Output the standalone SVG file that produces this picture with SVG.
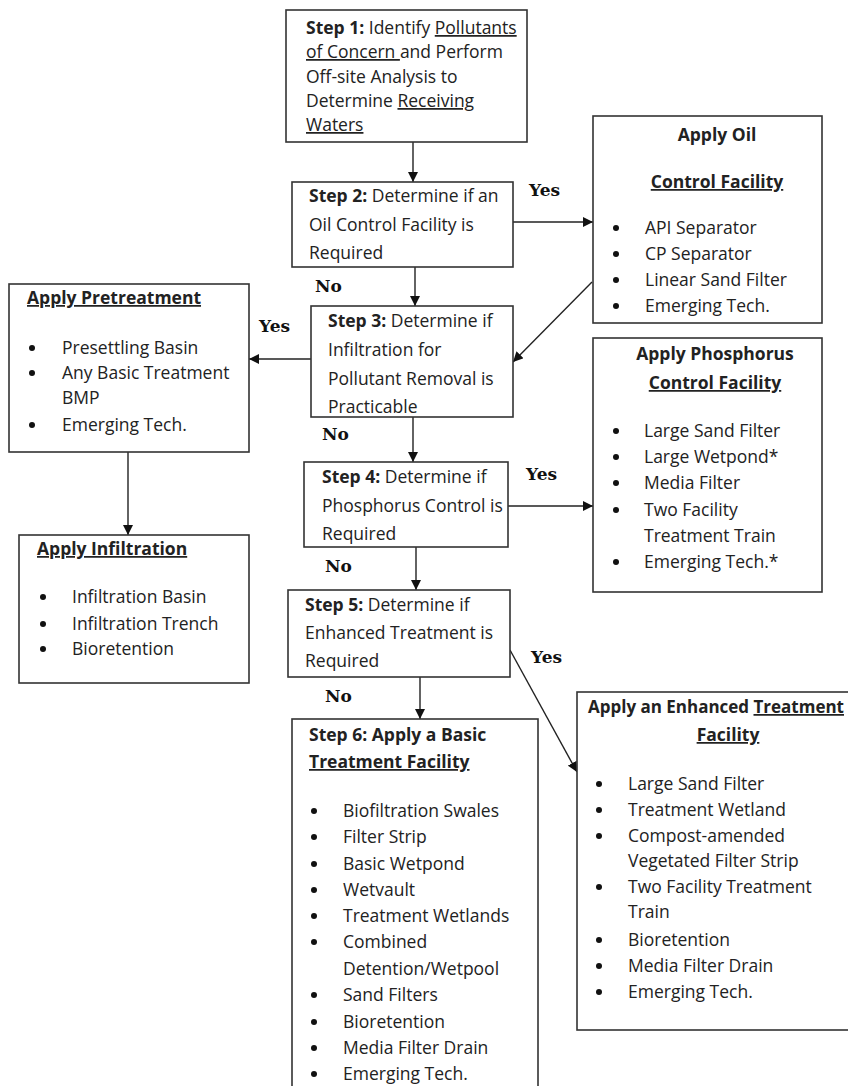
<svg xmlns="http://www.w3.org/2000/svg" width="848" height="1086" viewBox="0 0 848 1086">
<defs>
<marker id="ah" viewBox="0 0 10 10" refX="10" refY="5" markerWidth="10" markerHeight="10" markerUnits="userSpaceOnUse" orient="auto">
<path d="M0,0 L10,5 L0,10 z" fill="#111"/>
</marker>
<style>
.box{fill:#fff;stroke:#333;stroke-width:1.6}
.t{font-family:"Open Sans","Liberation Sans",sans-serif;font-size:17.5px;fill:#222}
.b{font-weight:bold}
.u{text-decoration:underline}
.lbl{font-family:"DejaVu Serif","Liberation Serif",serif;font-weight:bold;font-size:17px;fill:#111}
.ln{stroke:#222;stroke-width:1.4;fill:none}
.bul{fill:#111}
</style>
</defs>
<rect width="848" height="1086" fill="#fff"/>

<g id="connectors">
<line class="ln" x1="413" y1="142" x2="413" y2="182" marker-end="url(#ah)"/>
<line class="ln" x1="513" y1="222" x2="593" y2="222" marker-end="url(#ah)"/>
<line class="ln" x1="415" y1="267" x2="415" y2="306" marker-end="url(#ah)"/>
<line class="ln" x1="592" y1="282" x2="513" y2="362" marker-end="url(#ah)"/>
<line class="ln" x1="311" y1="359" x2="249" y2="359" marker-end="url(#ah)"/>
<polyline class="ln" points="128,452 128,535" marker-end="url(#ah)"/>
<line class="ln" x1="413" y1="417" x2="413" y2="462" marker-end="url(#ah)"/>
<line class="ln" x1="508" y1="506" x2="593" y2="506" marker-end="url(#ah)"/>
<line class="ln" x1="416" y1="547" x2="416" y2="590" marker-end="url(#ah)"/>
<line class="ln" x1="510" y1="650" x2="577" y2="772" marker-end="url(#ah)"/>
<line class="ln" x1="420" y1="677" x2="420" y2="719" marker-end="url(#ah)"/>
<text class="lbl" x="529" y="196">Yes</text>
<text class="lbl" x="315" y="292">No</text>
<text class="lbl" x="259" y="332">Yes</text>
<text class="lbl" x="322" y="440">No</text>
<text class="lbl" x="526" y="480">Yes</text>
<text class="lbl" x="325" y="572">No</text>
<text class="lbl" x="531" y="663">Yes</text>
<text class="lbl" x="325" y="702">No</text>
</g>

<g id="step1">
<rect class="box" x="286" y="10" width="241" height="132"/>
<text class="t" x="306" y="34"><tspan class="b">Step 1:</tspan> Identify <tspan class="u">Pollutants</tspan></text>
<text class="t" x="306" y="58"><tspan class="u">of Concern </tspan>and Perform</text>
<text class="t" x="306" y="83">Off-site Analysis to</text>
<text class="t" x="306" y="107">Determine <tspan class="u">Receiving</tspan></text>
<text class="t" x="306" y="131"><tspan class="u">Waters</tspan></text>
</g>

<g id="step2">
<rect class="box" x="292" y="182" width="221" height="85"/>
<text class="t" x="309" y="202"><tspan class="b">Step 2:</tspan> Determine if an</text>
<text class="t" x="309" y="231">Oil Control Facility is</text>
<text class="t" x="309" y="259">Required</text>
</g>

<g id="oil">
<rect class="box" x="593" y="116" width="229" height="207"/>
<text class="t b" x="717" y="141" text-anchor="middle">Apply Oil</text>
<text class="t b u" x="717" y="188" text-anchor="middle">Control Facility</text>
<circle class="bul" cx="616" cy="228" r="3"/>
<text class="t" x="645" y="234">API Separator</text>
<circle class="bul" cx="616" cy="254" r="3"/>
<text class="t" x="645" y="260">CP Separator</text>
<circle class="bul" cx="616" cy="280" r="3"/>
<text class="t" x="645" y="286">Linear Sand Filter</text>
<circle class="bul" cx="616" cy="306" r="3"/>
<text class="t" x="645" y="312">Emerging Tech.</text>
</g>

<g id="step3">
<rect class="box" x="311" y="306" width="202" height="111"/>
<text class="t" x="328" y="327"><tspan class="b">Step 3:</tspan> Determine if</text>
<text class="t" x="328" y="356">Infiltration for</text>
<text class="t" x="328" y="385">Pollutant Removal is</text>
<text class="t" x="328" y="413">Practicable</text>
</g>

<g id="pretreatment">
<rect class="box" x="9" y="284" width="240" height="168"/>
<text class="t b u" x="27" y="304">Apply Pretreatment</text>
<circle class="bul" cx="32" cy="348" r="3"/>
<text class="t" x="62" y="354">Presettling Basin</text>
<circle class="bul" cx="32" cy="373" r="3"/>
<text class="t" x="62" y="379">Any Basic Treatment</text>
<text class="t" x="62" y="404">BMP</text>
<circle class="bul" cx="32" cy="425" r="3"/>
<text class="t" x="62" y="431">Emerging Tech.</text>
</g>

<g id="infiltration">
<rect class="box" x="19" y="535" width="230" height="148"/>
<text class="t b u" x="37" y="555">Apply Infiltration</text>
<circle class="bul" cx="43" cy="597" r="3"/>
<text class="t" x="72" y="603">Infiltration Basin</text>
<circle class="bul" cx="43" cy="624" r="3"/>
<text class="t" x="72" y="630">Infiltration Trench</text>
<circle class="bul" cx="43" cy="649" r="3"/>
<text class="t" x="72" y="655">Bioretention</text>
</g>

<g id="step4">
<rect class="box" x="304" y="462" width="204" height="85"/>
<text class="t" x="322" y="483"><tspan class="b">Step 4:</tspan> Determine if</text>
<text class="t" x="322" y="512">Phosphorus Control is</text>
<text class="t" x="322" y="540">Required</text>
</g>

<g id="phosphorus">
<rect class="box" x="593" y="338" width="229" height="254"/>
<text class="t b" x="715" y="360" text-anchor="middle">Apply Phosphorus</text>
<text class="t b u" x="715" y="389" text-anchor="middle">Control Facility</text>
<circle class="bul" cx="616" cy="431" r="3"/>
<text class="t" x="644" y="437">Large Sand Filter</text>
<circle class="bul" cx="616" cy="457" r="3"/>
<text class="t" x="644" y="463">Large Wetpond*</text>
<circle class="bul" cx="616" cy="483" r="3"/>
<text class="t" x="644" y="489">Media Filter</text>
<circle class="bul" cx="616" cy="510" r="3"/>
<text class="t" x="644" y="516">Two Facility</text>
<text class="t" x="644" y="542">Treatment Train</text>
<circle class="bul" cx="616" cy="562" r="3"/>
<text class="t" x="644" y="568">Emerging Tech.*</text>
</g>

<g id="step5">
<rect class="box" x="288" y="590" width="222" height="87"/>
<text class="t" x="305" y="611"><tspan class="b">Step 5:</tspan> Determine if</text>
<text class="t" x="305" y="639">Enhanced Treatment is</text>
<text class="t" x="305" y="667">Required</text>
</g>

<g id="step6">
<rect class="box" x="292" y="719" width="246" height="380"/>
<text class="t b" x="309" y="741">Step 6: Apply a Basic</text>
<text class="t b u" x="309" y="768">Treatment Facility</text>
<circle class="bul" cx="314" cy="811" r="3"/>
<text class="t" x="343" y="817">Biofiltration Swales</text>
<circle class="bul" cx="314" cy="837" r="3"/>
<text class="t" x="343" y="843">Filter Strip</text>
<circle class="bul" cx="314" cy="864" r="3"/>
<text class="t" x="343" y="870">Basic Wetpond</text>
<circle class="bul" cx="314" cy="890" r="3"/>
<text class="t" x="343" y="896">Wetvault</text>
<circle class="bul" cx="314" cy="916" r="3"/>
<text class="t" x="343" y="922">Treatment Wetlands</text>
<circle class="bul" cx="314" cy="942" r="3"/>
<text class="t" x="343" y="948">Combined</text>
<text class="t" x="343" y="975">Detention/Wetpool</text>
<circle class="bul" cx="314" cy="995" r="3"/>
<text class="t" x="343" y="1001">Sand Filters</text>
<circle class="bul" cx="314" cy="1022" r="3"/>
<text class="t" x="343" y="1028">Bioretention</text>
<circle class="bul" cx="314" cy="1048" r="3"/>
<text class="t" x="343" y="1054">Media Filter Drain</text>
<circle class="bul" cx="314" cy="1074" r="3"/>
<text class="t" x="343" y="1080">Emerging Tech.</text>
</g>

<g id="enhanced">
<rect class="box" x="577" y="692" width="290" height="338"/>
<text class="t b" x="588" y="713" textLength="256" lengthAdjust="spacingAndGlyphs">Apply an Enhanced <tspan class="u">Treatment</tspan></text>
<text class="t b u" x="728" y="741" text-anchor="middle">Facility</text>
<circle class="bul" cx="599" cy="784" r="3"/>
<text class="t" x="628" y="790">Large Sand Filter</text>
<circle class="bul" cx="599" cy="810" r="3"/>
<text class="t" x="628" y="816">Treatment Wetland</text>
<circle class="bul" cx="599" cy="836" r="3"/>
<text class="t" x="628" y="842">Compost-amended</text>
<text class="t" x="628" y="867">Vegetated Filter Strip</text>
<circle class="bul" cx="599" cy="887" r="3"/>
<text class="t" x="628" y="893">Two Facility Treatment</text>
<text class="t" x="628" y="918">Train</text>
<circle class="bul" cx="599" cy="940" r="3"/>
<text class="t" x="628" y="946">Bioretention</text>
<circle class="bul" cx="599" cy="966" r="3"/>
<text class="t" x="628" y="972">Media Filter Drain</text>
<circle class="bul" cx="599" cy="992" r="3"/>
<text class="t" x="628" y="998">Emerging Tech.</text>
</g>
</svg>
